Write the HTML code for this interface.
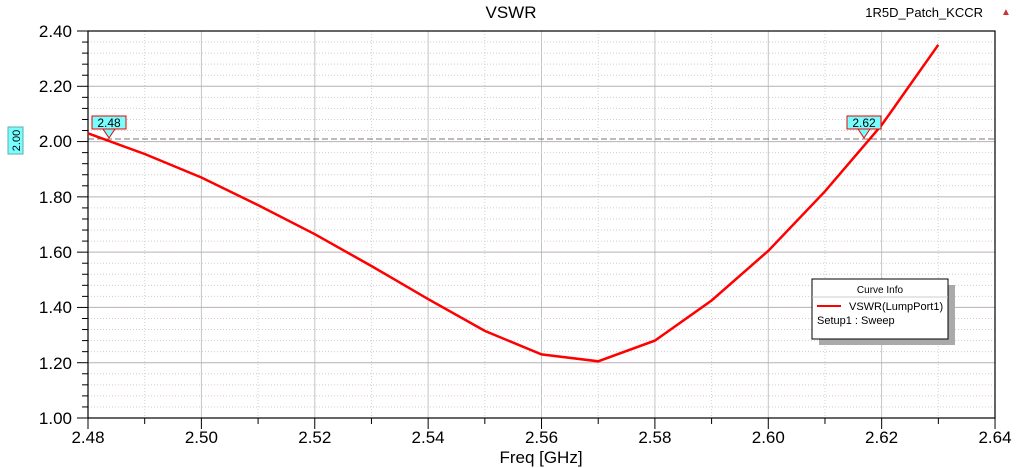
<!DOCTYPE html>
<html><head><meta charset="utf-8"><style>
body{margin:0;background:#fff;}
svg{display:block;font-family:"Liberation Sans",Arial,sans-serif;}
</style></head><body>
<svg width="1023" height="468" viewBox="0 0 1023 468" xmlns="http://www.w3.org/2000/svg">
<rect width="1023" height="468" fill="#fff"/>
<text x="511" y="18" font-size="17" text-anchor="middle">VSWR</text>
<text x="983" y="17" font-size="13" text-anchor="end">1R5D_Patch_KCCR</text>
<text x="1006" y="15" font-size="10" fill="#c33" text-anchor="middle">▲</text>
<g id="grid">
<!-- minor vertical -->
<g stroke="#cbd7c8" stroke-dasharray="1,2" stroke-width="1">
<line x1="144.7" y1="31" x2="144.7" y2="418"/><line x1="258" y1="31" x2="258" y2="418"/><line x1="371.4" y1="31" x2="371.4" y2="418"/><line x1="484.8" y1="31" x2="484.8" y2="418"/><line x1="598.2" y1="31" x2="598.2" y2="418"/><line x1="711.6" y1="31" x2="711.6" y2="418"/><line x1="825" y1="31" x2="825" y2="418"/><line x1="938.3" y1="31" x2="938.3" y2="418"/>
</g>
<g stroke="#c0c8c0" stroke-width="1">
<line x1="201.4" y1="31" x2="201.4" y2="418"/><line x1="314.8" y1="31" x2="314.8" y2="418"/><line x1="428.1" y1="31" x2="428.1" y2="418"/><line x1="541.5" y1="31" x2="541.5" y2="418"/><line x1="654.9" y1="31" x2="654.9" y2="418"/><line x1="768.3" y1="31" x2="768.3" y2="418"/><line x1="881.6" y1="31" x2="881.6" y2="418"/>
</g>
<g stroke="#d8c8d8" stroke-dasharray="1,2" stroke-width="1" id="hminor"></g>
<g stroke="#b8b0b8" stroke-width="1">
<line x1="88" y1="86.3" x2="995" y2="86.3"/><line x1="88" y1="141.6" x2="995" y2="141.6"/><line x1="88" y1="196.9" x2="995" y2="196.9"/><line x1="88" y1="252.1" x2="995" y2="252.1"/><line x1="88" y1="307.4" x2="995" y2="307.4"/><line x1="88" y1="362.7" x2="995" y2="362.7"/>
</g>
</g>
<line x1="88" y1="139" x2="995" y2="139" stroke="#777" stroke-dasharray="6,3"/>
<rect x="88" y="31" width="907" height="387" fill="none" stroke="#000" stroke-width="1.2"/>
<g id="ticks" stroke="#000"></g>
<g font-size="17" text-anchor="end">
<text x="72" y="37">2.40</text><text x="72" y="92">2.20</text><text x="72" y="147">2.00</text><text x="72" y="203">1.80</text><text x="72" y="258">1.60</text><text x="72" y="313">1.40</text><text x="72" y="369">1.20</text><text x="72" y="424">1.00</text>
</g>
<g font-size="17" text-anchor="middle">
<text x="88" y="443">2.48</text><text x="201.4" y="443">2.50</text><text x="314.8" y="443">2.52</text><text x="428.1" y="443">2.54</text><text x="541.5" y="443">2.56</text><text x="654.9" y="443">2.58</text><text x="768.3" y="443">2.60</text><text x="881.6" y="443">2.62</text><text x="995" y="443">2.64</text>
</g>
<text x="541" y="463" font-size="17" text-anchor="middle">Freq [GHz]</text>
<rect x="8" y="127" width="15" height="27" fill="#7ff" stroke="#6aa"/>
<text transform="translate(20,140.5) rotate(-90)" font-size="11" text-anchor="middle">2.00</text>
<polyline fill="none" stroke="#f00" stroke-width="2.5" points="88,409.6 144.7,388.9 201.4,365.4 258,337.8 314.8,308.8 371.4,277 428.1,243.8 484.8,212 541.5,188.5 598.2,181.6 654.9,160.9 711.6,134.4 768.3,112.3 825,79.2 881.6,40.5 938.3,12" transform="translate(0,0)" id="c"/>
<g>
<rect x="92" y="116" width="34" height="13" fill="#7ff" stroke="#e00"/>
<polygon points="103,129 115,129 109,138" fill="#7ff" stroke="#e00"/>
<text x="109" y="127" font-size="12" text-anchor="middle">2.48</text>
<rect x="847" y="116" width="34" height="13" fill="#7ff" stroke="#e00"/>
<polygon points="858,129 870,129 864,138" fill="#7ff" stroke="#e00"/>
<text x="864" y="127" font-size="12" text-anchor="middle">2.62</text>
</g>
<rect x="819" y="285" width="136" height="60" fill="#aaa"/>
<rect x="812" y="279" width="136" height="60" fill="#fff" stroke="#000"/>
<line x1="812" y1="297" x2="948" y2="297" stroke="#ccc"/>
<text x="880" y="293" font-size="10" text-anchor="middle">Curve Info</text>
<line x1="817" y1="306" x2="841" y2="306" stroke="#f00" stroke-width="2"/>
<text x="849" y="310" font-size="11">VSWR(LumpPort1)</text>
<text x="817" y="324" font-size="11">Setup1 : Sweep</text>
<script>
// fix curve y: computed from values
var vals=[2.03,1.955,1.87,1.77,1.665,1.55,1.43,1.315,1.23,1.205,1.28,1.425,1.605,1.82,2.06,2.35];
var pts=vals.map(function(v,i){return (88+i*56.69).toFixed(1)+","+(418-(v-1)*276.43).toFixed(1)}).join(" ");
document.getElementById("c").setAttribute("points",pts);
var hm=document.getElementById("hminor"),tk=document.getElementById("ticks"),ns="http://www.w3.org/2000/svg";
for(var i=1;i<35;i++){if(i%5==0)continue;var y=418-i*11.057;var l=document.createElementNS(ns,"line");l.setAttribute("x1",88);l.setAttribute("x2",995);l.setAttribute("y1",y);l.setAttribute("y2",y);hm.appendChild(l);}
for(var i=0;i<=35;i++){var y=418-i*11.057;var l=document.createElementNS(ns,"line");l.setAttribute("x1",i%5==0?77:82);l.setAttribute("x2",88);l.setAttribute("y1",y);l.setAttribute("y2",y);tk.appendChild(l);}
for(var i=0;i<=16;i++){var x=88+i*56.69;var l=document.createElementNS(ns,"line");l.setAttribute("x1",x);l.setAttribute("x2",x);l.setAttribute("y1",418);l.setAttribute("y2",i%2==0?429:424);tk.appendChild(l);}
</script>
</svg>
</body></html>
